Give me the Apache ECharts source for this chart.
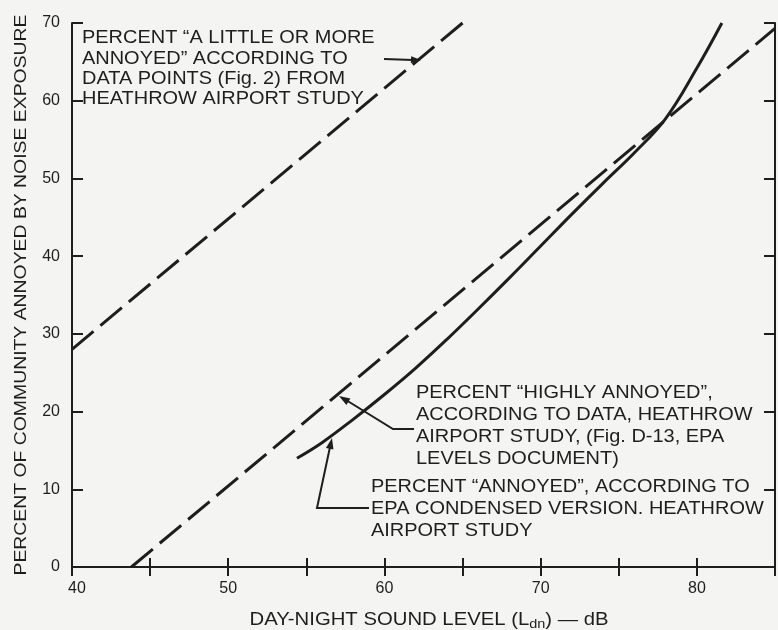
<!DOCTYPE html>
<html>
<head>
<meta charset="utf-8">
<script src="https://cdn.jsdelivr.net/npm/echarts@6/dist/echarts.min.js"></script>
<style>
html,body{margin:0;padding:0;background:#f4f4f2;}
#chart{width:778px;height:630px;}
</style>
</head>
<body>
<div id="chart"></div>
<script>
// Data
const xLabels = [40, 50, 60, 70, 80];
const yLabels = [0, 10, 20, 30, 40, 50, 60, 70];

// PERCENT "A LITTLE OR MORE ANNOYED" (dashed, upper)
const littleX = [40, 65];
const littleY = [28, 70];

// PERCENT "HIGHLY ANNOYED" according to data (dashed, lower)
const highlyX = [43.8, 85];
const highlyY = [0, 69.3];

// PERCENT "ANNOYED" EPA condensed version (solid curve)
const annoyedX = [54.4, 56, 58, 60, 62, 64, 66, 68, 70, 72, 74, 76, 78, 80, 81.6];
const annoyedY = [14.0, 16.0, 19.0, 22.2, 25.6, 29.3, 33.2, 37.2, 41.3, 45.4, 49.4, 53.3, 57.7, 64.2, 70];

const ink = '#1e1e1e';
const font = 'Liberation Sans';
const stretch = 1.14;

const zip = (xs, ys) => xs.map((x, i) => [x, ys[i]]);

const chart = echarts.init(document.getElementById('chart'));

const axisCommon = {
  type: 'value',
  splitLine: {show: false},
  axisLine: {show: true, lineStyle: {color: ink, width: 2}},
  axisTick: {show: true, inside: true, length: 9, lineStyle: {color: ink, width: 2}},
};

function arrowHead(tip, from, size) {
  const dx = tip[0] - from[0], dy = tip[1] - from[1];
  const len = Math.sqrt(dx * dx + dy * dy);
  const ux = dx / len, uy = dy / len;
  const bx = tip[0] - ux * size, by = tip[1] - uy * size;
  const w = size * 0.35;
  return {
    type: 'polygon',
    shape: {points: [tip, [bx - uy * w, by + ux * w], [bx + uy * w, by - ux * w]]},
    style: {fill: ink},
    z: 10
  };
}

const note = (x, y, lh, text) => ({
  type: 'text', x: x, y: y, scaleX: stretch, scaleY: 1,
  style: {
    text: text, font: '17.5px "' + font + '"', fill: ink, lineHeight: lh,
    textAlign: 'left', textVerticalAlign: 'top'
  },
  z: 10
});

chart.setOption({
  backgroundColor: '#f4f4f2',
  animation: false,
  grid: {left: 72, top: 23, width: 709, height: 544, containLabel: false},
  xAxis: [
    Object.assign({}, axisCommon, {
      position: 'bottom', min: 40, max: 85, interval: 5,
      axisLabel: {
        color: ink, fontSize: 16, fontFamily: font, margin: 14,
        formatter: v => (v === xLabels[0] ? '{f|' + v + '}' : (xLabels.indexOf(v) >= 0 ? String(v) : '')),
        rich: {f: {fontSize: 16, fontFamily: font, color: ink, padding: [0, 0, 0, 10]}}
      }
    }),
    Object.assign({}, axisCommon, {
      position: 'top', min: 40, max: 85, interval: 5,
      axisLabel: {show: false}
    })
  ],
  yAxis: [
    Object.assign({}, axisCommon, {
      position: 'left', min: 0, max: 70, interval: 10,
      axisTick: {show: true, inside: true, length: 11, lineStyle: {color: ink, width: 2}},
      axisLabel: {
        color: ink, fontSize: 16, fontFamily: font, margin: 12,
        formatter: v => (yLabels.indexOf(v) >= 0 ? String(v) : '')
      }
    }),
    Object.assign({}, axisCommon, {
      position: 'right', min: 0, max: 70, interval: 10,
      axisTick: {show: true, inside: true, length: 11, lineStyle: {color: ink, width: 2}},
      axisLabel: {show: false}
    })
  ],
  series: [
    {
      name: 'A little or more annoyed', type: 'line', data: zip(littleX, littleY),
      showSymbol: false, symbol: 'none',
      lineStyle: {color: ink, width: 3, type: [28, 9], cap: 'butt'}
    },
    {
      name: 'Highly annoyed', type: 'line', data: zip(highlyX, highlyY),
      showSymbol: false, symbol: 'none',
      lineStyle: {color: ink, width: 3, type: [28, 9], cap: 'butt'}
    },
    {
      name: 'Annoyed (EPA)', type: 'line', data: zip(annoyedX, annoyedY),
      showSymbol: false, symbol: 'none', smooth: 0.4,
      lineStyle: {color: ink, width: 3}
    }
  ],
  graphic: [
    // axis titles
    {
      type: 'text', x: 21, y: 295, rotation: Math.PI / 2, scaleX: 1.14, scaleY: 1,
      style: {
        text: 'PERCENT OF COMMUNITY ANNOYED BY NOISE EXPOSURE',
        font: '17px "' + font + '"', fill: ink, textAlign: 'center', textVerticalAlign: 'middle'
      }
    },
    {
      type: 'text', x: 429, y: 620, scaleX: 1.16, scaleY: 1,
      style: {
        text: '{a|DAY-NIGHT SOUND LEVEL (L}{s|dn}{a|) — dB}',
        textAlign: 'center', textVerticalAlign: 'middle',
        rich: {
          a: {font: '17.5px "' + font + '"', fill: ink, lineHeight: 22},
          s: {font: '12.5px "' + font + '"', fill: ink, lineHeight: 22, padding: [10, 0, 0, 0]}
        }
      }
    },
    // annotations
    note(82, 28.5, 20.3, 'PERCENT \u201cA LITTLE OR MORE\nANNOYED\u201d ACCORDING TO\nDATA POINTS (Fig. 2) FROM\nHEATHROW AIRPORT STUDY'),
    note(416, 382, 22, 'PERCENT \u201cHIGHLY ANNOYED\u201d,\nACCORDING TO DATA, HEATHROW\nAIRPORT STUDY, (Fig. D-13, EPA\nLEVELS DOCUMENT)'),
    note(371, 476, 22, 'PERCENT \u201cANNOYED\u201d, ACCORDING TO\nEPA CONDENSED VERSION. HEATHROW\nAIRPORT STUDY'),
    // leader lines
    {type: 'polyline', shape: {points: [[384, 59], [413, 60]]}, style: {stroke: ink, lineWidth: 2}, z: 10},
    arrowHead([421, 60], [384, 59], 10),
    {type: 'polyline', shape: {points: [[414, 429], [393, 429], [346, 400]]}, style: {stroke: ink, lineWidth: 2, fill: null}, z: 10},
    arrowHead([339, 396], [393, 429], 11),
    {type: 'polyline', shape: {points: [[369, 508], [317, 508], [330, 447]]}, style: {stroke: ink, lineWidth: 2, fill: null}, z: 10},
    arrowHead([332, 438], [317, 508], 11)
  ]
});
</script>
</body>
</html>
